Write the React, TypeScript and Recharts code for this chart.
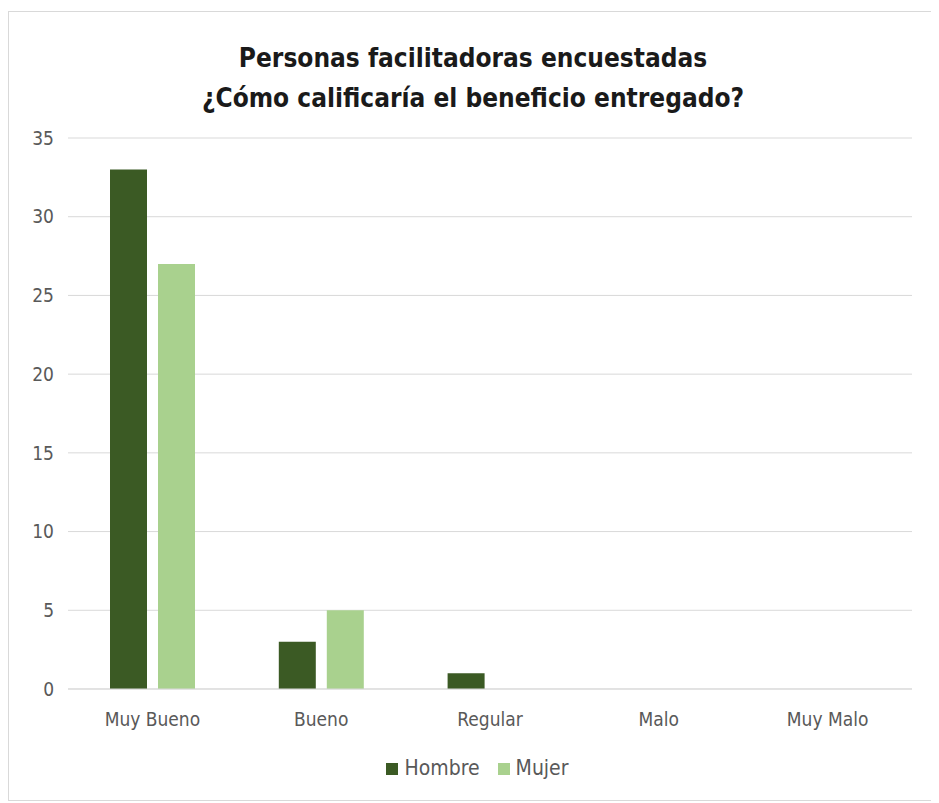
import { BarChart, Bar, XAxis, YAxis, CartesianGrid, Legend } from "recharts";

// valores
const categorias = ["Muy Bueno", "Bueno", "Regular", "Malo", "Muy Malo"];
const hombre = [33, 3, 1, 0, 0];
const mujer = [27, 5, 0, 0, 0];
const yTicks = [0, 5, 10, 15, 20, 25, 30, 35];

const data = categorias.map((c, i) => ({ name: c, Hombre: hombre[i], Mujer: mujer[i] }));

const FONT = "'DejaVu Sans Condensed', 'Liberation Sans', sans-serif";
const TEXT = "#595959";
const GRID = "#d9d9d9";

export default function App() {
  return (
    <div
      style={{
        position: "relative",
        width: 928,
        height: 788,
        marginTop: 3,
        border: `1px solid ${GRID}`,
        background: "#fff",
        fontFamily: FONT,
      }}
    >
      <div
        style={{
          position: "absolute",
          left: 0,
          top: 26,
          width: 928,
          textAlign: "center",
          fontWeight: "bold",
          fontSize: 26,
          lineHeight: "40px",
          color: "#1a1a1a",
        }}
      >
        Personas facilitadoras encuestadas
        <br />
        ¿Cómo calificaría el beneficio entregado?
      </div>
      <BarChart
        width={928}
        height={788}
        data={data}
        margin={{ top: 126, right: 25, left: 0, bottom: 57 }}
        barGap={11}
        barSize={37}
        style={{ position: "absolute", left: 0, top: 0 }}
      >
        <CartesianGrid vertical={false} stroke={GRID} />
        <XAxis
          dataKey="name"
          axisLine={{ stroke: GRID }}
          tickLine={false}
          tick={{ fill: TEXT, fontSize: 19, fontFamily: FONT }}
          tickMargin={18}
        />
        <YAxis
          width={59}
          domain={[0, 35]}
          ticks={yTicks}
          axisLine={false}
          tickLine={false}
          tick={{ fill: TEXT, fontSize: 19, fontFamily: FONT }}
          tickMargin={8}
        />
        <Legend
          iconType="square"
          iconSize={12}
          wrapperStyle={{ top: 744, left: 26, fontSize: 21, fontFamily: FONT, color: TEXT }}
          formatter={(v) => <span style={{ color: TEXT, marginLeft: 2, marginRight: 8 }}>{v}</span>}
        />
        <Bar dataKey="Hombre" fill="#3b5a24" isAnimationActive={false} />
        <Bar dataKey="Mujer" fill="#a9d18e" isAnimationActive={false} />
      </BarChart>
    </div>
  );
}
